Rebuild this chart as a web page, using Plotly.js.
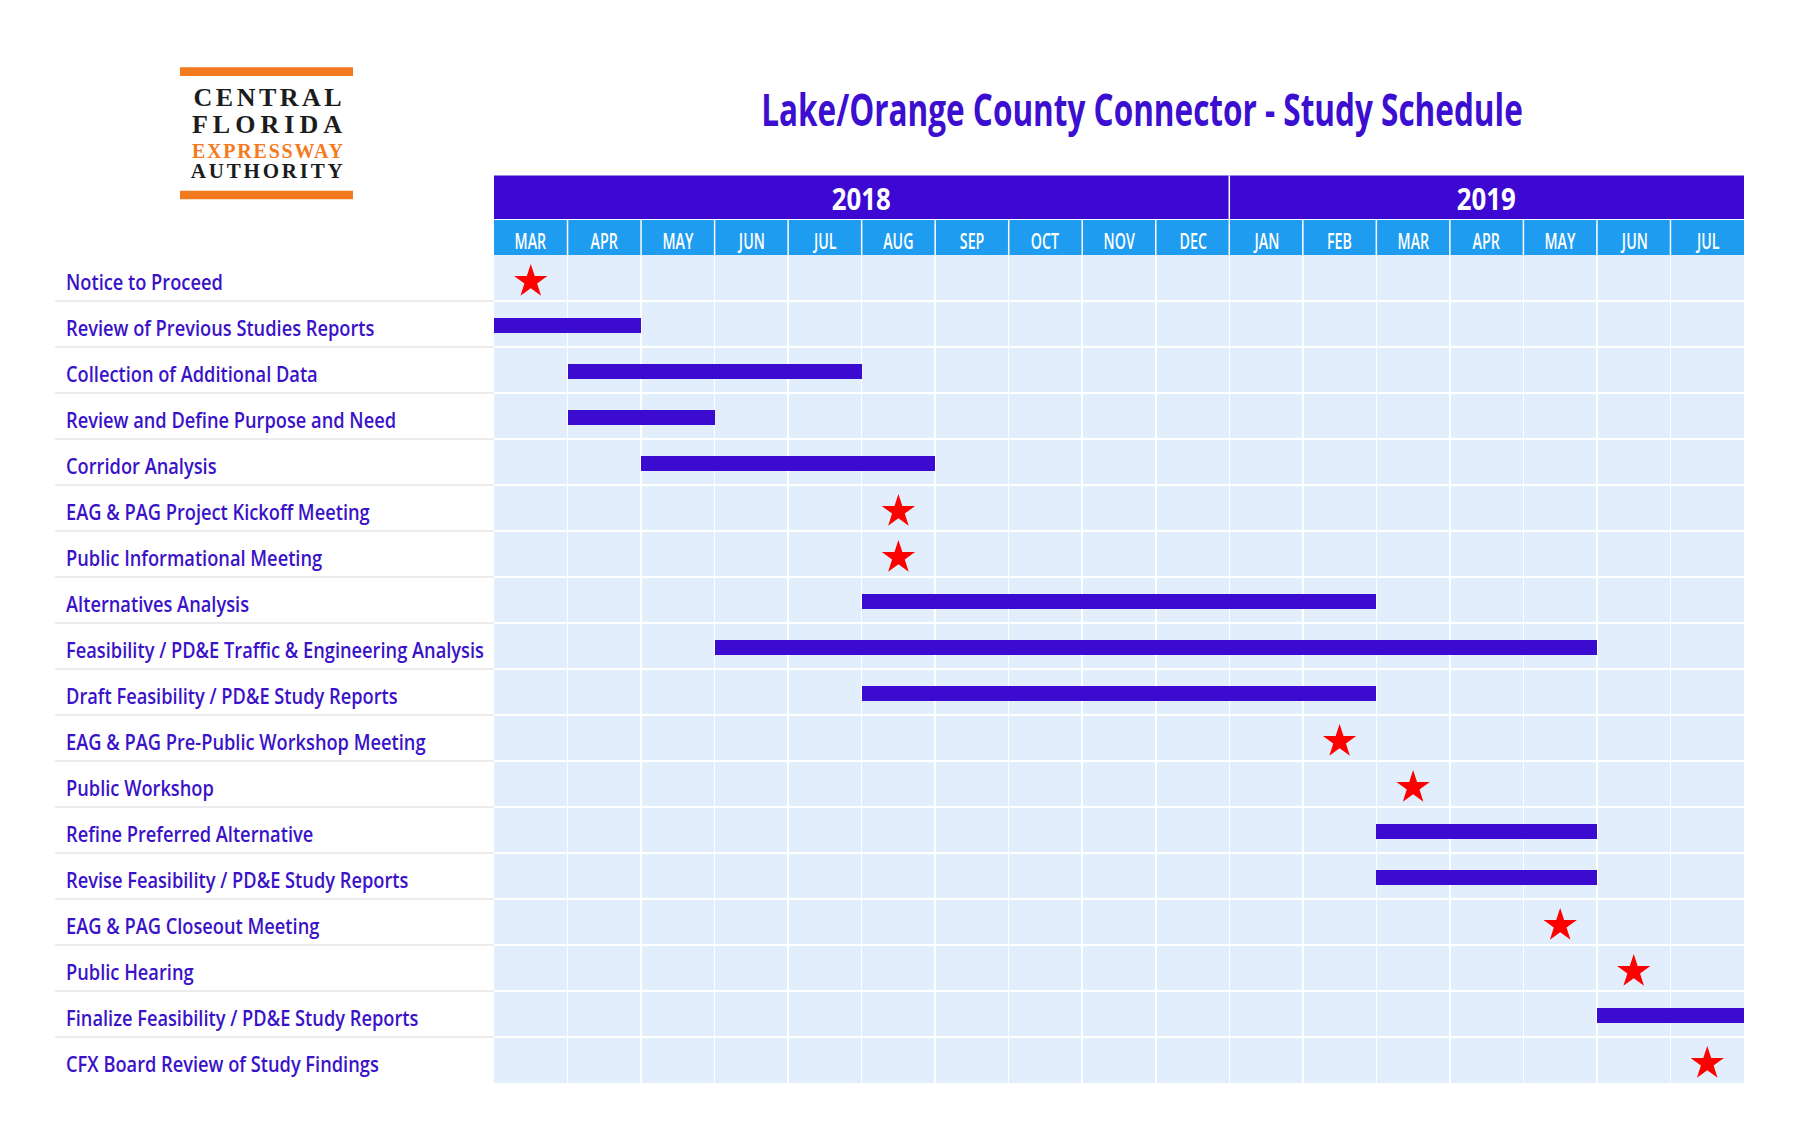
<!DOCTYPE html>
<html>
<head>
<meta charset="utf-8">
<script src="https://cdn.plot.ly/plotly-3.0.1.min.js"></script>
<style>
html,body{margin:0;padding:0;background:#fff;}
#chart{width:1800px;height:1145px;}
</style>
</head>
<body>
<div id="chart"></div>
<script>
// ---------------- DATA ----------------
const tasks = [
  "Notice to Proceed",
  "Review of Previous Studies Reports",
  "Collection of Additional Data",
  "Review and Define Purpose and Need",
  "Corridor Analysis",
  "EAG & PAG Project Kickoff Meeting",
  "Public Informational Meeting",
  "Alternatives Analysis",
  "Feasibility / PD&E Traffic & Engineering Analysis",
  "Draft Feasibility / PD&E Study Reports",
  "EAG & PAG Pre-Public Workshop Meeting",
  "Public Workshop",
  "Refine Preferred Alternative",
  "Revise Feasibility / PD&E Study Reports",
  "EAG & PAG Closeout Meeting",
  "Public Hearing",
  "Finalize Feasibility / PD&E Study Reports",
  "CFX Board Review of Study Findings"
];
// months counted from start of MAR 2018 (0) to end of JUL 2019 (17)
const barStart = [null, 0, 1, 1, 2, null, null, 5, 3, 5, null, null, 12, 12, null, null, 15, null];
const barEnd   = [null, 2, 5, 3, 6, null, null, 12, 15, 12, null, null, 15, 15, null, null, 17, null];
const milestone = [0.5, null, null, null, null, 5.5, 5.5, null, null, null, 11.5, 12.5, null, null, 14.5, 15.5, null, 16.5];
const months = ["MAR","APR","MAY","JUN","JUL","AUG","SEP","OCT","NOV","DEC","JAN","FEB","MAR","APR","MAY","JUN","JUL"];
const years = ["2018", "2019"];
const yearMonths = [10, 7];
const titleText = "Lake/Orange County Connector - Study Schedule";
const logoLines = ["CENTRAL", "FLORIDA", "EXPRESSWAY", "AUTHORITY"];

// ---------------- STYLE / LAYOUT HELPERS ----------------
const PURPLE = "#3c08d2";
const BAR = "#3c0bd0";
const LABEL = "#3a12c8";
const SKY = "#1e9cf0";
const GRIDBG = "#e2eefb";
const ORANGE = "#f47a1f";
const SANS = "'Open Sans', Roboto, 'Noto Sans', sans-serif";
const L = 494, R = 1744, T = 255, B = 1083;
const W = R - L, H = B - T;
const px = x => (x - L) / W;
const py = y => (B - y) / H;
const rowPx = H / tasks.length;

// ---------------- TRACES ----------------
const bi = barStart.map((v, i) => v === null ? -1 : i).filter(i => i >= 0);
const barTrace = {
  type: "bar", orientation: "h",
  y: bi.map(i => tasks[i]),
  base: bi.map(i => barStart[i]),
  x: bi.map(i => barEnd[i] - barStart[i]),
  width: 0.33,
  marker: {color: BAR, line: {width: 0}},
  yaxis: "y2",
  hoverinfo: "skip"
};
const mi = milestone.map((v, i) => v === null ? -1 : i).filter(i => i >= 0);
const starTrace = {
  type: "scatter", mode: "markers",
  x: mi.map(i => milestone[i]),
  y: mi.map(i => tasks[i]),
  marker: {symbol: "star", size: 25, color: "#ff0000", line: {width: 0}},
  yaxis: "y3",
  hoverinfo: "skip"
};

// ---------------- SHAPES ----------------
const shapes = [];
shapes.push({type: "rect", xref: "x", yref: "paper", x0: 0, x1: months.length, y0: py(219), y1: py(175.5),
  fillcolor: PURPLE, line: {width: 0}, layer: "above"});
shapes.push({type: "rect", xref: "x", yref: "paper", x0: 0, x1: months.length, y0: 1, y1: py(220),
  fillcolor: SKY, line: {width: 0}, layer: "above"});
for (let i = 1; i < months.length; i++) {
  shapes.push({type: "line", xref: "x", yref: "paper", x0: i, x1: i, y0: 1, y1: py(220),
    line: {color: "#ffffff", width: 1.5}, layer: "above"});
}
let acc = 0;
for (let k = 0; k < years.length - 1; k++) {
  acc += yearMonths[k];
  shapes.push({type: "line", xref: "x", yref: "paper", x0: acc, x1: acc, y0: py(219), y1: py(175.5),
    line: {color: "#ffffff", width: 1.5}, layer: "above"});
}
for (let k = 0; k < tasks.length - 1; k++) {
  shapes.push({type: "line", xref: "paper", yref: "y", x0: px(55), x1: 0, y0: k + 0.5, y1: k + 0.5,
    line: {color: "#e6e6e6", width: 1.5}, layer: "below"});
}
shapes.push({type: "rect", xref: "paper", yref: "paper", x0: px(180), x1: px(353), y0: py(76), y1: py(67.3),
  fillcolor: ORANGE, line: {width: 0}});
shapes.push({type: "rect", xref: "paper", yref: "paper", x0: px(180), x1: px(353), y0: py(199.3), y1: py(190.7),
  fillcolor: ORANGE, line: {width: 0}});

// ---------------- ANNOTATIONS ----------------
const annotations = [];
const groups = [];
const logoY = [97.5, 125, 150.5, 171];
const logoSize = [26, 26, 20, 21];
const logoColor = ["#1c1c1c", "#1c1c1c", ORANGE, "#1c1c1c"];
logoLines.forEach((t, i) => {
  annotations.push({xref: "paper", yref: "paper", x: px(267), y: py(logoY[i]), xanchor: "center", yanchor: "middle",
    text: "<b>" + t + "</b>", showarrow: false,
    font: {family: "'Liberation Serif', 'DejaVu Serif', serif", size: logoSize[i], color: logoColor[i]}});
  groups.push("logo");
});
months.forEach((m, i) => {
  annotations.push({xref: "x", yref: "paper", x: i + 0.5, y: py(240.5), xanchor: "center", yanchor: "middle",
    text: m, showarrow: false, font: {family: SANS, size: 21, weight: 600, color: "#ffffff"}});
  groups.push("month");
});
acc = 0;
years.forEach((yv, k) => {
  annotations.push({xref: "x", yref: "paper", x: acc + yearMonths[k] / 2, y: py(199), xanchor: "center", yanchor: "middle",
    text: yv, showarrow: false, font: {family: SANS, size: 30, weight: 700, color: "#ffffff"}});
  groups.push("year");
  acc += yearMonths[k];
});
tasks.forEach((t, i) => {
  annotations.push({xref: "paper", yref: "y", x: px(64), y: t, xanchor: "left", yanchor: "middle", yshift: -3,
    text: t, showarrow: false, font: {family: SANS, size: 22, weight: 600, color: LABEL}});
  groups.push("label");
});

// ---------------- LAYOUT ----------------
const hiddenCat = (shiftPx) => ({
  type: "category", categoryorder: "array", categoryarray: tasks, overlaying: "y",
  range: [tasks.length - 0.5 - shiftPx / rowPx, -0.5 - shiftPx / rowPx], fixedrange: true,
  visible: false, showgrid: false, zeroline: false
});
const layout = {
  width: 1800, height: 1145,
  margin: {l: L, r: 1800 - R, t: T, b: 1145 - B, pad: 0},
  paper_bgcolor: "#ffffff",
  plot_bgcolor: GRIDBG,
  showlegend: false,
  title: {
    text: titleText,
    xref: "container", yref: "container",
    x: 1142 / 1800, y: 1 - 111 / 1145, xanchor: "center", yanchor: "middle",
    font: {family: SANS, size: 44, weight: 700, color: "#3b0ed0"}
  },
  xaxis: {
    range: [0, months.length], fixedrange: true,
    tick0: 0, dtick: 1, showgrid: true, gridcolor: "#ffffff", gridwidth: 1.5,
    showticklabels: false, ticks: "", zeroline: false, showline: false
  },
  yaxis: {
    type: "category", categoryorder: "array", categoryarray: tasks,
    range: [tasks.length - 0.5, -0.5], fixedrange: true,
    tickson: "boundaries", showgrid: true, gridcolor: "#ffffff", gridwidth: 1.5,
    showticklabels: false, ticks: "", zeroline: false, showline: false
  },
  yaxis2: hiddenCat(1.5),
  yaxis3: hiddenCat(3.5),
  bargap: 0,
  shapes: shapes,
  annotations: annotations
};

function condense(el, s, anchor) {
  const bb = el.getBBox();
  const ox = anchor === "left" ? bb.x : bb.x + bb.width / 2;
  const prev = el.getAttribute("transform") || "";
  el.setAttribute("transform", prev + ` translate(${ox},0) scale(${s},1) translate(${-ox},0)`);
}

Plotly.newPlot("chart", [barTrace, starTrace], layout, {displayModeBar: false, staticPlot: true}).then(() => {
  const logoW = [148, 150, 151, 152];
  const texts = {};
  document.querySelectorAll("#chart .annotation").forEach(g => {
    const idx = +g.getAttribute("data-index");
    const txt = g.querySelector("text");
    if (!txt) return;
    const grp = groups[idx];
    (texts[grp] = texts[grp] || []).push([idx, txt]);
  });
  (texts.logo || []).forEach(([idx, txt]) => {
    txt.setAttribute("textLength", logoW[idx]);
    txt.setAttribute("lengthAdjust", "spacing");
  });
  const labs = texts.label || [];
  let maxW = 0;
  labs.forEach(([i, t]) => { maxW = Math.max(maxW, t.getBBox().width); });
  const sL = maxW ? 418 / maxW : 1;
  labs.forEach(([i, t]) => condense(t, sL, "left"));
  const mon = texts.month || [];
  if (mon.length) {
    const s = 32 / mon[0][1].getBBox().width;
    mon.forEach(([i, t]) => condense(t, s, "center"));
  }
  const yrs = texts.year || [];
  if (yrs.length) {
    const s = 59 / yrs[0][1].getBBox().width;
    yrs.forEach(([i, t]) => condense(t, s, "center"));
  }
  const tt = document.querySelector("#chart .gtitle");
  if (tt) {
    const s = 762 / tt.getBBox().width;
    condense(tt, s, "center");
  }
});
</script>
</body>
</html>
